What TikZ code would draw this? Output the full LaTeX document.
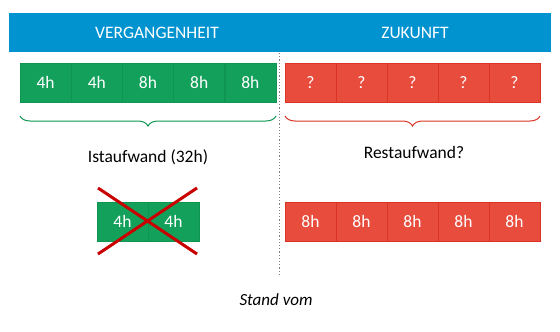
\documentclass[tikz,border=0pt]{standalone}
\usepackage{fontspec}
\setmainfont{Carlito}
\usetikzlibrary{positioning,decorations.pathreplacing}

\definecolor{headblue}{HTML}{0093D0}
\definecolor{pastgreen}{HTML}{13A05B}
\definecolor{pastline}{HTML}{0E9550}
\definecolor{futurered}{HTML}{E74C3C}
\definecolor{futureline}{HTML}{DC3424}
\definecolor{crossred}{HTML}{C80000}

\tikzset{
  headbar/.style={fill=headblue, minimum width=542pt, minimum height=39pt, inner sep=0pt},
  headtext/.style={text=white, font=\fontsize{17.5}{19}\selectfont},
  cell/.style={minimum width=51pt, minimum height=39pt, inner sep=0pt, line width=0.6pt, text=white, font=\fontsize{17.5}{19}\selectfont},
  pastbox/.style={cell, fill=pastgreen, draw=pastline},
  futurebox/.style={cell, fill=futurered, draw=futureline},
  pastbrace/.style={draw=pastline, line width=1pt, decorate, decoration={brace, amplitude=10pt, mirror}},
  futurebrace/.style={draw=futureline, line width=1pt, decorate, decoration={brace, amplitude=10pt, mirror}},
  sumtext/.style={font=\fontsize{17.5}{19}\selectfont},
  crossline/.style={draw=crossred, line width=3pt},
}

\begin{document}
\begin{tikzpicture}[x=1pt, y=-1pt]
  \useasboundingbox (0,0) rectangle (560,332);

  % header
  \node[headbar] (bar) at (280,32.5) {};
  \node[headtext] (past) at (157,33) {VERGANGENHEIT};
  \node[headtext] (future) at (415,33) {ZUKUNFT};

  % divider
  \coordinate (d1) at (279,53);
  \coordinate (d2) at (279,275);
  \draw[gray, line width=1pt, dash pattern=on 1.2pt off 2pt] (d1) -- (d2);

  % booked hours and open hours
  \foreach \t [count=\i] in {4h,4h,8h,8h,8h}
    \node[pastbox] (p\i) at ({45.6+51.2*(\i-1)},82.5) {\t};
  \foreach \i in {1,...,5}
    \node[futurebox] (f\i) at ({310.5+51*(\i-1)},82.5) {?};

  % braces
  \coordinate (pb1) at (20,116);
  \coordinate (pb2) at (276,116);
  \coordinate (fb1) at (285,116);
  \coordinate (fb2) at (540,116);
  \draw[pastbrace] (pb1) -- (pb2);
  \draw[futurebrace] (fb1) -- (fb2);

  \node[sumtext] (ist) at (148,157) {Istaufwand (32h)};
  \node[sumtext] (rest) at (414,152) {Restaufwand?};

  % struck out estimate
  \node[pastbox] (o1) at (122.5,221.5) {4h};
  \node[pastbox] (o2) at (173.5,221.5) {4h};
  \coordinate (x1) at (98,188);
  \coordinate (x2) at (197,254);
  \coordinate (x3) at (98,254);
  \coordinate (x4) at (197,188);
  \draw[crossline] (x1) -- (x2);
  \draw[crossline] (x3) -- (x4);

  % remaining estimate
  \foreach \i in {1,...,5}
    \node[futurebox] (r\i) at ({310.5+51*(\i-1)},221.5) {8h};

  \node[font=\fontsize{17}{19}\itshape] (stand) at (276,300) {Stand vom};
\end{tikzpicture}
\end{document}
